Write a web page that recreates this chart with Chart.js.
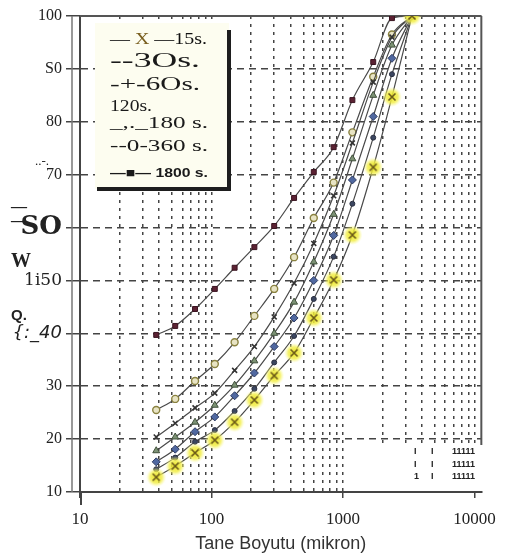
<!DOCTYPE html>
<html><head><meta charset="utf-8">
<script src="https://cdn.jsdelivr.net/npm/chart.js@4"></script>
<style>html,body{margin:0;padding:0;background:#fff;}#wrap{width:507px;height:558px;}</style>
</head><body><div id="wrap"><canvas id="c" width="507" height="558"></canvas></div>
<script>
// ---- data ----
const sizes = [38, 53, 75, 106, 150, 212, 300, 425, 600, 850, 1180, 1700, 2360, 3350];
const s15   = [12.8, 14.9, 17.4, 19.8, 23.2, 27.4, 32.0, 36.3, 42.9, 50.1, 58.6, 71.4, 84.7, 100];
const s30   = [14.3, 16.5, 19.5, 21.7, 25.3, 29.5, 34.5, 39.5, 46.5, 54.5, 64.5, 77.0, 89.0, 100];
const s60   = [15.7, 18.1, 21.4, 24.2, 28.2, 32.5, 37.5, 42.9, 50.0, 58.5, 69.0, 81.0, 92.0, 100];
const s120  = [17.8, 20.4, 23.2, 26.4, 30.2, 34.8, 40.0, 45.9, 53.5, 62.5, 73.0, 85.0, 94.5, 100];
const s180  = [20.4, 23.0, 25.9, 28.7, 33.0, 37.5, 43.1, 49.5, 57.0, 66.0, 76.0, 87.5, 96.0, 100];
const s360  = [25.5, 27.6, 31.0, 34.2, 38.3, 43.3, 48.4, 54.4, 61.8, 68.5, 78.0, 88.5, 96.5, 100];
const s1800 = [39.7, 41.4, 44.6, 48.4, 52.4, 56.3, 60.3, 65.6, 70.5, 75.2, 84.1, 91.3, 99.6, 100];
const seriesNames = ['15s.', '30s.', '60s.', '120s.', '180 s.', '360 s.', '1800 s.'];
const legendLines = ['— X —15s.', '--3Os.', '-+-6Os.', '120s.', '_,._180 s.', '--0-360 s.', '—■— 1800 s.'];
const xTickValues = [10,20,30,40,50,60,70,80,90,100,200,300,400,500,600,700,800,900,1000,2000,3000,4000,5000,6000,7000,8000,9000,10000];
const xTickLabels = ['10', '100', '1000', '10000'];
const yTickValues = [10, 20, 30, 40, 50, 60, 70, 80, 90, 100];
const yTickLabels = ['10', '20', '30', '{:_40', '1i50', 'SO', '70', '80', 'S0', '100'];
const xTitle = 'Tane Boyutu (mikron)';
const yExtraTexts = ['..-.', '—', '—', 'W', 'Q.'];
const cornerTexts = ['I', 'I', '11111', 'I', 'I', '11111', '1', 'I', '11111'];

// ---- marker for 15 s series (yellow glow + X) ----
function makeYellowX() {
  const c = document.createElement('canvas'); c.width = 20; c.height = 20;
  const g = c.getContext('2d');
  const grd = g.createRadialGradient(10, 10, 1, 10, 10, 10);
  grd.addColorStop(0, 'rgba(236,230,40,0.95)');
  grd.addColorStop(0.55, 'rgba(242,238,70,0.8)');
  grd.addColorStop(1, 'rgba(250,250,150,0)');
  g.fillStyle = grd; g.beginPath(); g.arc(10, 10, 10, 0, Math.PI * 2); g.fill();
  g.strokeStyle = '#6b5a1a'; g.lineWidth = 1.6; g.beginPath();
  g.moveTo(6.5, 6.5); g.lineTo(13.5, 13.5); g.moveTo(13.5, 6.5); g.lineTo(6.5, 13.5); g.stroke();
  return c;
}
const yellowX = makeYellowX();

function pts(arr) { return sizes.map((s, i) => ({ x: s, y: arr[i] })); }
function ds(label, arr, style, fill, stroke, r, bw) {
  return { label, data: pts(arr), borderColor: '#4a4a4a', borderWidth: 1.2, pointStyle: style,
    pointRadius: r, pointBackgroundColor: fill, pointBorderColor: stroke, pointBorderWidth: bw,
    cubicInterpolationMode: 'monotone', fill: false };
}
const datasets = [
  ds(seriesNames[0], s15, yellowX, '#ece61e', '#6b5a1a', 9, 1),
  ds(seriesNames[1], s30, 'circle', '#3b4660', '#2a2f40', 2.5, 1),
  ds(seriesNames[2], s60, 'rectRot', '#5068a0', '#2c3a60', 4, 1),
  ds(seriesNames[3], s120, 'triangle', '#7c9274', '#3f4f3a', 4, 1),
  ds(seriesNames[4], s180, 'crossRot', '#333', '#333', 3.5, 1.6),
  ds(seriesNames[5], s360, 'circle', '#e8e4c4', '#8a8240', 3.5, 1.4),
  ds(seriesNames[6], s1800, 'rect', '#5b2233', '#3a1420', 3.5, 1)
];

function fitText(ctx, t, x, y, font, endX) {
  ctx.font = font;
  const w = ctx.measureText(t).width;
  ctx.save(); ctx.translate(x, y); ctx.scale((endX - x) / w, 1); ctx.fillText(t, 0, 0); ctx.restore();
}

const decor = {
  id: 'decor',
  beforeDatasetsDraw(chart) {
    const { ctx, chartArea: a, scales: { x, y } } = chart;
    ctx.save();
    ctx.fillStyle = '#fff';
    const x0 = x.getPixelForValue(1000) + 2, y0 = y.getPixelForValue(18.9);
    ctx.fillRect(x0, y0, a.right - x0 + 1, a.bottom - y0 - 1);
    ctx.strokeStyle = '#555'; ctx.lineWidth = 2;
    ctx.beginPath(); ctx.moveTo(a.left, a.top); ctx.lineTo(a.right, a.top); ctx.stroke();
    ctx.beginPath(); ctx.moveTo(a.right, a.top); ctx.lineTo(a.right, y0); ctx.stroke();
    ctx.restore();
  },
  afterDraw(chart) {
    const { ctx, chartArea: a } = chart;
    ctx.save();
    ctx.strokeStyle = '#777'; ctx.lineWidth = 1.5;
    ctx.beginPath(); ctx.moveTo(a.left - 8, a.top); ctx.lineTo(a.left - 8, a.bottom); ctx.stroke();
    ctx.strokeStyle = '#444'; ctx.lineWidth = 2;
    ctx.beginPath(); ctx.moveTo(a.left + 1, a.bottom); ctx.lineTo(a.left + 1, a.bottom + 13); ctx.stroke();

    // legend box
    ctx.fillStyle = '#fdfdf0'; ctx.fillRect(95, 23, 134, 166);
    ctx.fillStyle = '#1e1e1e'; ctx.fillRect(227, 30, 4, 161); ctx.fillRect(97, 187, 134, 4);
    ctx.textBaseline = 'middle'; ctx.textAlign = 'left';
    const lx = 110;
    // line 1 with coloured X, stretched to the reference width
    ctx.font = '17px "Liberation Serif"';
    const p1 = '— ', p2 = 'X', p3 = legendLines[0].slice(3);
    const w1 = ctx.measureText(p1).width, w2 = ctx.measureText(p2).width, w3 = ctx.measureText(p3).width;
    const sx = (207 - lx) / (w1 + w2 + w3);
    ctx.save(); ctx.translate(lx, 40); ctx.scale(sx, 1);
    ctx.fillStyle = '#111'; ctx.fillText(p1, 0, 0);
    ctx.fillStyle = '#7a6020'; ctx.fillText(p2, w1, 0);
    ctx.fillStyle = '#111'; ctx.fillText(p3, w1 + w2, 0);
    ctx.restore();
    const rows = [
      [legendLines[1], '20px "Liberation Serif"', 62, 200],
      [legendLines[2], '18px "Liberation Serif"', 85, 200],
      [legendLines[3], '16px "Liberation Serif"', 107, 152],
      [legendLines[4], '17px "Liberation Serif"', 124, 208],
      [legendLines[5], '17px "Liberation Serif"', 147, 208],
      [legendLines[6], 'bold 13px "Liberation Sans"', 173, 208]
    ];
    ctx.fillStyle = '#1a1a1a';
    rows.forEach(([t, f, yy, ex]) => fitText(ctx, t, lx, yy, f, ex));

    // extra y-axis fragments
    ctx.fillStyle = '#222';
    ctx.font = '13px "Liberation Serif"'; ctx.fillText(yExtraTexts[0], 35, 162);
    ctx.font = 'bold 16px "Liberation Serif"'; ctx.fillText(yExtraTexts[1], 11, 208); ctx.fillText(yExtraTexts[2], 11, 222);
    ctx.font = 'bold 20px "Liberation Serif"'; ctx.fillText(yExtraTexts[3], 11, 262);
    ctx.font = 'bold 15px "Liberation Sans"'; ctx.fillText(yExtraTexts[4], 11, 316);

    // garbled corner text
    ctx.font = 'bold 9px "Liberation Sans"'; ctx.fillStyle = '#222';
    const cols = [414, 431, 452]; const rowsY = [452, 465, 477];
    rowsY.forEach((yy, r) => cols.forEach((xx, c) => ctx.fillText(cornerTexts[r * 3 + c], xx, yy)));
    ctx.restore();
  }
};

new Chart(document.getElementById('c'), {
  type: 'line',
  data: { datasets },
  options: {
    responsive: false, animation: false,
    layout: { padding: { left: 0, right: 20, top: 16, bottom: 0 } },
    plugins: { legend: { display: false }, tooltip: { enabled: false } },
    scales: {
      x: {
        type: 'logarithmic', min: 10, max: 11290,
        afterBuildTicks: (s) => { s.ticks = xTickValues.map(v => ({ value: v })); },
        afterFit: (s) => { s.height = 66; },
        ticks: {
          autoSkip: false, maxRotation: 0, padding: 11, color: '#222',
          font: { family: '"Liberation Serif"', size: 17 },
          callback: (v) => { const k = xTickLabels.indexOf(String(v)); return k >= 0 ? xTickLabels[k] : ''; }
        },
        grid: {
          color: '#444', lineWidth: 1.5, tickLength: 6,
          tickColor: (c) => (c.tick && xTickLabels.includes(String(c.tick.value))) ? '#444' : 'rgba(0,0,0,0)'
        },
        border: { display: true, color: '#444', width: 2, dash: [3, 5] },
        title: { display: true, text: xTitle, color: '#333', font: { family: '"Liberation Sans"', size: 18 }, padding: { top: 0, bottom: 3 } }
      },
      y: {
        min: 10, max: 100,
        afterBuildTicks: (s) => { s.ticks = yTickValues.map(v => ({ value: v })); },
        afterFit: (s) => { s.width = 80; },
        ticks: {
          padding: 4, color: '#222',
          callback: (v) => yTickLabels[yTickValues.indexOf(v)],
          font: (c) => {
            const v = c.tick ? c.tick.value : 0;
            if (v === 60) return { family: '"DejaVu Serif"', size: 26, weight: 'bold' };
            if (v === 50) return { family: '"DejaVu Serif"', size: 17 };
            if (v === 40) return { family: '"DejaVu Sans"', size: 18, style: 'italic' };
            return { family: '"Liberation Serif"', size: 16 };
          }
        },
        grid: { color: '#444', lineWidth: 1.5, tickLength: 14, tickColor: '#444', tickWidth: 1.5 },
        border: { display: true, color: '#444', width: 2, dash: [7, 5] }
      }
    }
  },
  plugins: [decor]
});
</script>
</body></html>
